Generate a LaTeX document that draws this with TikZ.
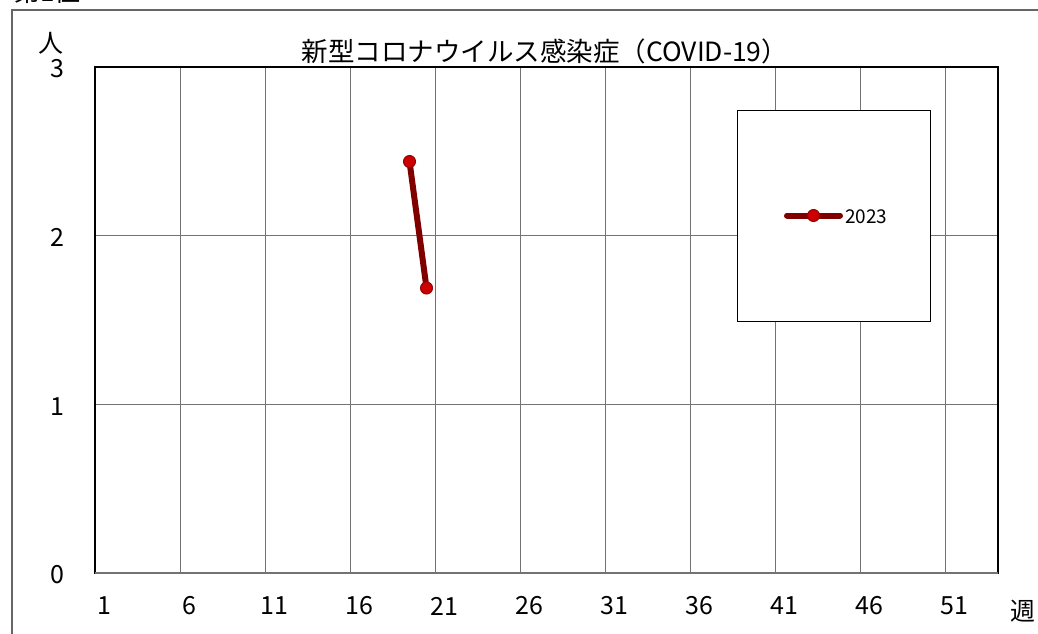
\documentclass[tikz,border=0pt]{standalone}
\usepackage{fontspec}
\setmainfont{Noto Sans CJK JP}
\begin{document}
\begin{tikzpicture}[x=1pt,y=-1pt,
  gridline/.style={draw=black!55,line width=1pt},
  frameline/.style={draw=black!60,line width=1.5pt},
  plotborder/.style={draw=black,line width=1.6pt},
  lbl/.style={font=\fontsize{25}{28}\selectfont,inner sep=0pt},
  titlefont/.style={font=\fontsize{26.5}{30}\selectfont,inner sep=0pt},
  series/.style={draw=red!50!black,line width=6pt,line cap=round},
  marker/.style={circle,fill=red!80!black,draw=red!60!black,line width=1pt,minimum size=12pt,inner sep=0pt},
  legbox/.style={draw=black,fill=white,line width=1pt}]
\useasboundingbox (0,0) rectangle (1038,633);
\clip (0,0) rectangle (1038,633);
% clipped heading
\node[anchor=base west,font=\fontsize{26}{28}\selectfont,inner sep=0pt] (head) at (14,1) {第1位};
% outer frame
\coordinate (ofA) at (12,640);
\coordinate (ofB) at (12,10);
\coordinate (ofC) at (1045,10);
\draw[frameline] (ofA) -- (ofB) -- (ofC);
% plot area
\coordinate (pTL) at (95,67);
\coordinate (pBR) at (998,573);
% vertical grid lines
\foreach \i in {1,...,10} {
  \draw[gridline] ({95+\i*5*17},67) -- ({95+\i*5*17},573);
}
% horizontal grid lines
\foreach \v in {1,2} {
  \draw[gridline] (95,{573-\v*168.67}) -- (998,{573-\v*168.67});
}
\draw[plotborder] (pTL) rectangle (pBR);
\draw[draw=black!55,line width=2pt] (95,573) -- (998,573);
% title
\node[titlefont] (title) at (545,51) {新型コロナウイルス感染症（COVID-19）};
% y labels
\node[lbl] (yunit) at (51,43) {人};
\foreach \v in {0,1,2,3} {
  \node[lbl] (y\v) at (57,{575-\v*168.67}) {\v};
}
% x labels
\foreach \k in {0,...,10} {
  \pgfmathtruncatemacro{\wk}{1+5*\k}
  \node[lbl] (x\k) at ({95+(\k*5+0.5)*17+1},606) {\wk};
}
\node[lbl] (xunit) at (1023,611) {週};
% data
\coordinate (d19) at (409.5,161.5);
\coordinate (d20) at (426.5,288);
\draw[series] (d19) -- (d20);
\node[marker] (m19) at (d19) {};
\node[marker] (m20) at (d20) {};
% legend
\draw[legbox] (737,110) rectangle (930,321);
\coordinate (lgA) at (787,215.5);
\coordinate (lgB) at (840,215.5);
\draw[series] (lgA) -- (lgB);
\node[marker] (lgm) at (813.5,215.5) {};
\node[anchor=west,font=\fontsize{19}{21}\selectfont,inner sep=0pt] (lgt) at (845,216.5) {2023};
\end{tikzpicture}
\end{document}
